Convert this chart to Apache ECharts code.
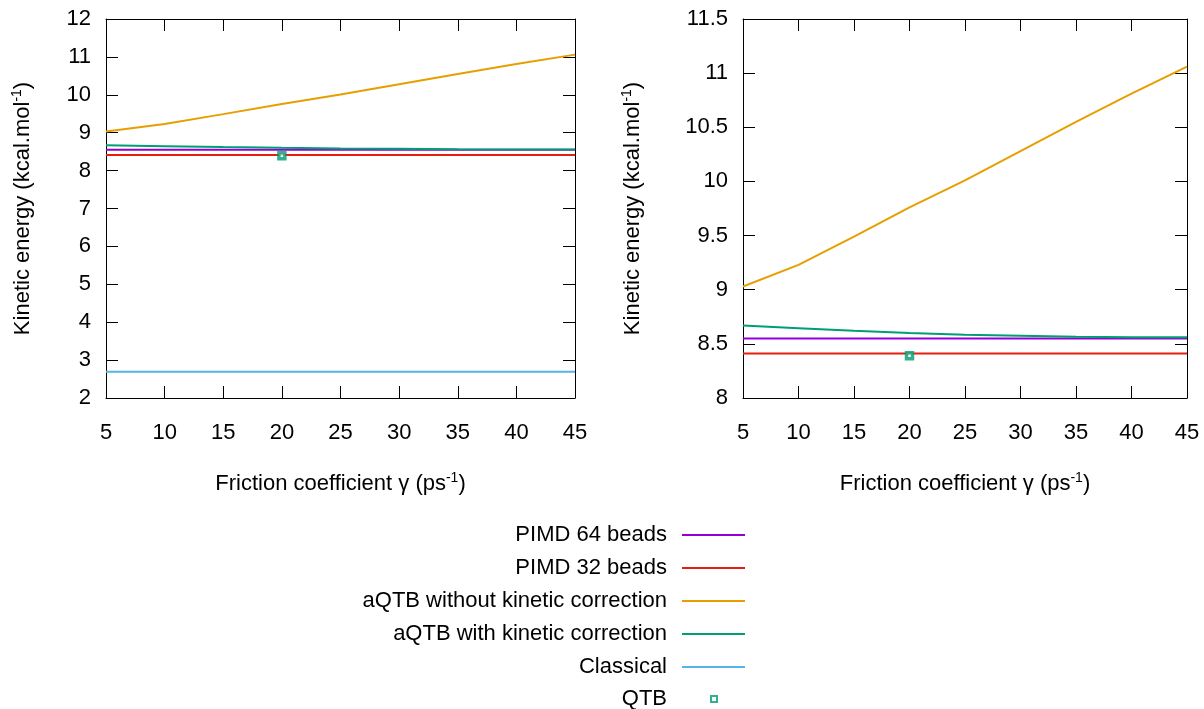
<!DOCTYPE html>
<html>
<head>
<meta charset="utf-8">
<script src="https://cdn.jsdelivr.net/npm/echarts@6/dist/echarts.min.js"></script>
<style>html,body{margin:0;padding:0;background:#fff;}#c{width:1204px;height:709px;}</style>
</head>
<body>
<div id="c"></div>
<script>
const gamma = [5, 10, 15, 20, 25, 30, 35, 40, 45];
const pimd64 = [8.55, 8.55, 8.55, 8.55, 8.55, 8.55, 8.55, 8.55, 8.55];
const pimd32 = [8.41, 8.41, 8.41, 8.41, 8.41, 8.41, 8.41, 8.41, 8.41];
const aqtbNoCorr = [9.03, 9.23, 9.49, 9.76, 10.01, 10.28, 10.55, 10.81, 11.06];
const aqtbCorr = [8.67, 8.645, 8.62, 8.60, 8.585, 8.575, 8.565, 8.56, 8.56];
const classical = [2.69, 2.69, 2.69, 2.69, 2.69, 2.69, 2.69, 2.69, 2.69];
const qtbGamma = [20];
const qtbValue = [8.39];
const leftYTicks = [2, 3, 4, 5, 6, 7, 8, 9, 10, 11, 12];
const rightYTicks = [8, 8.5, 9, 9.5, 10, 10.5, 11, 11.5];
const xTicks = [5, 10, 15, 20, 25, 30, 35, 40, 45];

const names = ['PIMD 64 beads', 'PIMD 32 beads', 'aQTB without kinetic correction', 'aQTB with kinetic correction', 'Classical', 'QTB'];
const colors = {purple: '#9400d3', red: '#e51e10', orange: '#e69f00', green: '#009e73', blue: '#56b4e9'};

const FONT = 'Liberation Sans, Arial, Helvetica, sans-serif';
const FS = 22;
const pair = (xs, ys) => xs.map((x, i) => [x, ys[i]]);

const chart = echarts.init(document.getElementById('c'), null, {renderer: 'canvas'});

const supRich = {sup: {fontSize: 14, verticalAlign: 'top', padding: [0, 0, 11, 0], color: '#000', fontFamily: FONT}};

function xAxes(gi) {
  const base = {
    type: 'value', min: 5, max: 45, interval: 5, gridIndex: gi,
    axisLine: {show: true, onZero: false, lineStyle: {color: '#000', width: 1}},
    axisTick: {show: true, inside: true, length: 12, lineStyle: {color: '#000'}},
    splitLine: {show: false},
  };
  return [
    Object.assign({}, base, {
      position: 'bottom',
      axisLabel: {show: true, color: '#000', fontSize: FS, fontFamily: FONT, margin: 24,
        formatter: v => xTicks.includes(v) ? String(v) : ''},
      name: 'Friction coefficient γ (ps{sup|-1})',
      nameLocation: 'middle', nameGap: 73,
      nameTextStyle: {color: '#000', fontSize: FS, fontFamily: FONT, rich: supRich}
    }),
    Object.assign({}, base, {position: 'top', axisLabel: {show: false}})
  ];
}
function yAxes(gi, min, max, interval, ticks, nameGap) {
  const base = {
    type: 'value', min: min, max: max, interval: interval, gridIndex: gi,
    axisLine: {show: true, onZero: false, lineStyle: {color: '#000', width: 1}},
    axisTick: {show: true, inside: true, length: 12, lineStyle: {color: '#000'}},
    splitLine: {show: false},
  };
  return [
    Object.assign({}, base, {
      position: 'left',
      axisLabel: {show: true, color: '#000', fontSize: FS, fontFamily: FONT, margin: 15,
        formatter: v => ticks.includes(v) ? String(v) : ''},
      name: 'Kinetic energy (kcal.mol{sup|-1})',
      nameLocation: 'middle', nameGap: nameGap, nameRotate: 90,
      nameTextStyle: {color: '#000', fontSize: FS, fontFamily: FONT, rich: supRich}
    }),
    Object.assign({}, base, {position: 'right', axisLabel: {show: false}})
  ];
}

function lineSeries(name, xs, ys, color, xi, yi) {
  return {
    name: name, type: 'line', data: pair(xs, ys), xAxisIndex: xi, yAxisIndex: yi,
    symbol: 'none', smooth: false, lineStyle: {color: color, width: 2}, itemStyle: {color: color},
    clip: true, animation: false, z: 3
  };
}
function qtbSeries(xi, yi) {
  return {
    name: 'QTB', type: 'scatter', data: pair(qtbGamma, qtbValue), xAxisIndex: xi, yAxisIndex: yi,
    symbol: 'rect', symbolSize: 6,
    itemStyle: {color: '#ffffff', borderColor: colors.green, borderWidth: 3.5},
    animation: false, z: 5
  };
}

const series = [];
series.push(lineSeries(names[0], gamma, pimd64, colors.purple, 0, 0));
series.push(lineSeries(names[1], gamma, pimd32, colors.red, 0, 0));
series.push(lineSeries(names[2], gamma, aqtbNoCorr, colors.orange, 0, 0));
series.push(lineSeries(names[3], gamma, aqtbCorr, colors.green, 0, 0));
series.push(lineSeries(names[4], gamma, classical, colors.blue, 0, 0));
series.push(qtbSeries(0, 0));
series.push(lineSeries(names[0], gamma, pimd64, colors.purple, 2, 2));
series.push(lineSeries(names[1], gamma, pimd32, colors.red, 2, 2));
series.push(lineSeries(names[2], gamma, aqtbNoCorr, colors.orange, 2, 2));
series.push(lineSeries(names[3], gamma, aqtbCorr, colors.green, 2, 2));
series.push(qtbSeries(2, 2));

const option = {
  backgroundColor: '#ffffff',
  animation: false,
  textStyle: {fontFamily: FONT},
  grid: [
    {left: 106, right: 629, top: 19, bottom: 311},
    {left: 743, right: 17, top: 19, bottom: 311}
  ],
  xAxis: xAxes(0).concat(xAxes(1)),
  yAxis: yAxes(0, 2, 12, 1, leftYTicks, 71).concat(yAxes(1, 8, 11.5, 0.5, rightYTicks, 98)),
  legend: [
    {
      orient: 'vertical',
      left: 327, top: 524, padding: 0,
      align: 'right',
      icon: 'rect',
      itemWidth: 63, itemHeight: 2,
      itemGap: 11,
      selectedMode: false,
      data: names.slice(0, 5),
      textStyle: {color: '#000', fontSize: FS, fontFamily: FONT, width: 340, align: 'right', lineHeight: 20, padding: [0, 10, 0, 0]}
    },
    {
      orient: 'vertical',
      left: 607, top: 688, padding: 0,
      align: 'right',
      icon: 'rect',
      itemWidth: 6, itemHeight: 6,
      selectedMode: false,
      data: ['QTB'],
      textStyle: {color: '#000', fontSize: FS, fontFamily: FONT, width: 60, align: 'right', lineHeight: 20, padding: [0, 39, 0, 0]}
    }
  ],
  series: series
};
chart.setOption(option);
</script>
</body>
</html>
